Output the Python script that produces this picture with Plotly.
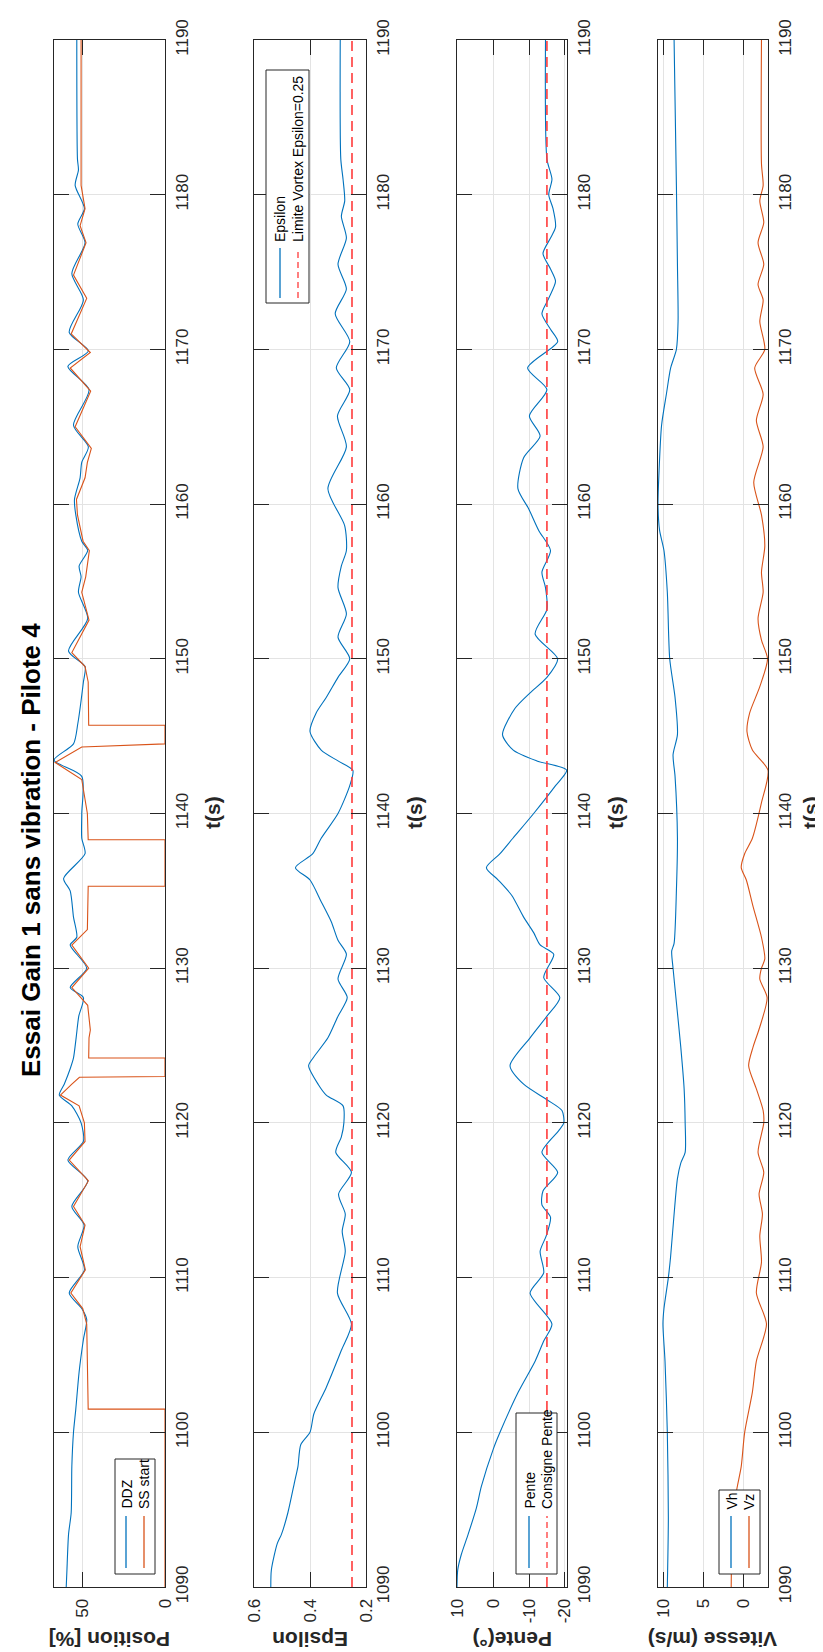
import plotly.graph_objects as go

# ---------------- DATA ----------------
t_ddz = [1090, 1091, 1093.4, 1094.8, 1097.8, 1100, 1101.5, 1103.9, 1106, 1107.3, 1108, 1109, 1110.5,
         1112, 1113.4, 1114.6, 1116.25, 1117.6, 1118.8, 1120, 1121.1, 1121.8, 1122.5, 1123.5, 1124.2,
         1125.5, 1126.9, 1128.1, 1128.75, 1130, 1131.5, 1132, 1133.3, 1135, 1135.8, 1137.4, 1138.4,
         1140, 1142.4, 1143.45, 1144.5, 1145.8, 1148.5, 1149.5, 1150.5, 1152.6, 1154.3, 1155.3, 1156,
         1157, 1157.6, 1159.3, 1160.3, 1161.7, 1162.7, 1163.7, 1165.1, 1167.4, 1168.9, 1169.9, 1171.1,
         1173.2, 1174.9, 1176.9, 1178.1, 1179.1, 1180.6, 1181.6, 1182.3, 1190]
ddz = [59.8, 59.4, 58.4, 56.8, 56.4, 55.4, 54.0, 52.0, 49.4, 47.4, 50.4, 58.0, 48.8,
       52.8, 49.0, 56.4, 46.8, 58.8, 49.4, 50.8, 56.4, 64.0, 61.0, 57.4, 55.4,
       53.8, 52.2, 49.4, 57.4, 47.4, 57.4, 53.4, 55.4, 57.4, 61.4, 48.4, 50.4,
       50.4, 50.4, 67.2, 55.4, 52.8, 49.4, 48.4, 58.4, 46.8, 52.4, 50.8, 52.0,
       46.8, 50.4, 54.0, 54.8, 51.4, 50.4, 46.4, 55.4, 46.0, 58.8, 46.4, 58.0,
       49.4, 56.4, 48.4, 52.8, 48.8, 54.4, 52.4, 53.0, 53.4]

t_ss = [1090, 1101.5, 1101.5, 1104, 1107, 1108, 1109, 1110.5, 1112, 1113.4, 1114.6, 1116.25, 1117.6,
        1118.8, 1120, 1121.1, 1121.8, 1122.5, 1122.95, 1123.0, 1124.2, 1124.2, 1125.5, 1126, 1127.6,
        1128.75, 1130, 1131.5, 1132.5, 1135.3, 1135.3, 1138.3, 1138.3, 1140, 1142.2, 1143.3, 1144.3,
        1144.5, 1145.7, 1145.7, 1148.5, 1149.5, 1150.4, 1152.5, 1154.3, 1155.3, 1157, 1157.6, 1159.3,
        1160.3, 1161.7, 1162.7, 1163.6, 1165, 1167.3, 1168.8, 1169.8, 1171, 1173.3, 1174.8, 1176.9,
        1178, 1179.1, 1180.6, 1181.6, 1182.3, 1190]
ss_start = [0, 0, 46.5, 46.8, 47.4, 49.8, 57.0, 48.2, 51.4, 48.4, 55.4, 46.4, 58.0,
            48.4, 48.8, 52.0, 63.3, 56.4, 51.8, 0, 0, 46.2, 46.0, 45.2, 46.8,
            56.4, 46.2, 56.4, 47.0, 46.5, 0, 0, 46.5, 47.0, 50.4, 66.5, 50.4,
            0, 0, 46.2, 46.5, 48.4, 56.4, 46.0, 50.4, 48.0, 45.8, 49.6, 53.0,
            53.6, 48.4, 47.0, 44.6, 54.4, 45.0, 57.4, 45.2, 56.8, 47.4, 55.4, 47.8,
            51.4, 48.4, 50.8, 50.8, 50.8, 50.8]

t_eps = [1090, 1091.1, 1092.8, 1093.4, 1094.8, 1096.8, 1097.8, 1099.2, 1100, 1101.2, 1102.9, 1105.3,
         1107, 1109, 1111.7, 1113, 1114.1, 1115.4, 1116.8, 1118.1, 1119.1, 1120, 1121.1, 1121.8,
         1122.5, 1123.7, 1124.2, 1125.5, 1126.9, 1128.1, 1129.3, 1130.9, 1131.8, 1133, 1134.3,
         1135.7, 1136.5, 1137.4, 1138.4, 1140, 1141.8, 1142.8, 1143.4, 1144.1, 1145.3, 1146.5,
         1147.5, 1148.8, 1150, 1151.4, 1152.9, 1154.6, 1156, 1157, 1158.6, 1161, 1163.7, 1165.7,
         1167.4, 1168.8, 1170.5, 1172.3, 1173.9, 1175.5, 1177.2, 1178.6, 1179.6, 1181, 1182.3, 1190]
epsilon = [0.540, 0.538, 0.517, 0.502, 0.479, 0.455, 0.443, 0.433, 0.400, 0.386, 0.342, 0.288,
           0.252, 0.302, 0.274, 0.285, 0.274, 0.298, 0.252, 0.308, 0.288, 0.279, 0.282, 0.342,
           0.371, 0.405, 0.389, 0.336, 0.300, 0.267, 0.300, 0.270, 0.300, 0.324, 0.360,
           0.400, 0.452, 0.390, 0.360, 0.300, 0.258, 0.247, 0.300, 0.360, 0.400, 0.378,
           0.342, 0.300, 0.258, 0.300, 0.270, 0.300, 0.288, 0.270, 0.276, 0.336, 0.270, 0.302,
           0.258, 0.306, 0.258, 0.310, 0.270, 0.300, 0.270, 0.288, 0.276, 0.282, 0.290, 0.292]
eps_limit = 0.25

t_pente = [1090, 1091.1, 1092.1, 1093.4, 1095.1, 1096.5, 1098.9, 1100, 1102.6, 1104.6, 1105.9, 1107,
           1109, 1110.3, 1111.7, 1112.7, 1113.9, 1114.7, 1115.6, 1116.8, 1118.1, 1119.5, 1120,
           1120.8, 1121.5, 1122.5, 1123.7, 1125.5, 1126.9, 1128.1, 1129.4, 1130.9, 1131.5, 1132.3,
           1133.3, 1134.7, 1135.7, 1136.5, 1137.4, 1138.4, 1140, 1141.8, 1142.8, 1143.4, 1144.1,
           1145.1, 1146.8, 1147.8, 1148.8, 1150, 1151.6, 1153.2, 1154.6, 1155.6, 1157, 1158.3,
           1159.7, 1161, 1163, 1164.4, 1165.7, 1167.4, 1168.8, 1170.5, 1171.3, 1172.3, 1173.3,
           1174.4, 1175.2, 1176.2, 1177.2, 1177.9, 1179.1, 1180, 1181, 1182.3, 1190]
pente = [10.1, 9.9, 8.9, 7.0, 4.7, 3.3, 0.0, -1.9, -7.0, -11.7, -14.1, -16.4,
         -10.3, -14.1, -13.1, -14.8, -16.0, -13.6, -13.9, -18.0, -13.6, -18.3, -19.7,
         -19.2, -15.0, -8.5, -4.7, -10.3, -15.0, -18.6, -14.1, -16.9, -13.1, -11.3,
         -8.5, -5.2, -1.4, 1.9, -1.9, -5.5, -11.3, -17.4, -20.5, -12.2, -5.6,
         -2.6, -6.1, -10.3, -15.0, -18.0, -11.7, -15.0, -14.6, -13.6, -16.0, -12.7,
         -9.9, -6.9, -8.5, -13.1, -10.1, -15.0, -9.6, -18.0, -16.0, -13.6, -15.5,
         -17.4, -16.0, -13.9, -16.0, -17.4, -16.7, -15.5, -16.4, -15.0, -14.6]
pente_consigne = -15

t_vh = [1090, 1094.5, 1100, 1104.6, 1107, 1108, 1110, 1111.4, 1114.1, 1116.4, 1117.4, 1118.1, 1120,
        1122.2, 1124.9, 1128.2, 1130, 1131.1, 1131.6, 1135, 1138.4, 1142.4, 1143.8, 1145.1, 1147.5,
        1150, 1154.3, 1157, 1158.3, 1160, 1162, 1165.1, 1167.1, 1168.8, 1170, 1171.8, 1175.5,
        1180.6, 1190]
vh = [9.58, 9.45, 9.58, 9.87, 10.13, 10.0, 9.45, 9.16, 8.73, 8.31, 7.89, 7.34, 7.34,
      7.47, 7.89, 8.52, 8.86, 9.03, 8.73, 8.44, 8.31, 8.61, 8.86, 8.31, 8.61,
      9.28, 9.58, 10.0, 10.55, 10.75, 10.63, 10.3, 9.7, 9.16, 8.44, 8.23, 8.31,
      8.44, 8.73]

t_vz = [1090, 1093.4, 1096.1, 1097.8, 1100, 1102.6, 1104.6, 1107, 1109, 1111, 1112.7, 1114.1, 1115.4,
        1116.8, 1118.1, 1120, 1120.8, 1122.2, 1123.7, 1124.9, 1126.2, 1128.1, 1129.3, 1130, 1130.6,
        1132, 1134, 1135.7, 1136.5, 1137.4, 1138.4, 1140.7, 1142.8, 1144.1, 1145.3, 1146.5, 1148.2,
        1150, 1151.2, 1152.6, 1154.3, 1155.6, 1157.3, 1159.3, 1161.4, 1163.7, 1165.4, 1167.1,
        1168.8, 1170, 1171.8, 1173.2, 1174.2, 1175.5, 1176.9, 1178.2, 1179.6, 1180.6, 1182, 1190]
vz = [1.56, 1.43, 0.93, 0.30, -0.13, -1.10, -1.60, -2.87, -1.60, -2.24, -2.03, -2.36, -1.94,
      -2.53, -1.81, -2.53, -2.45, -1.60, -0.63, -1.18, -2.03, -2.95, -2.03, -2.24, -2.66,
      -2.24, -1.18, -0.34, 0.30, -0.13, -1.10, -2.24, -3.06, -1.10, -0.42, -0.76, -2.03,
      -3.00, -2.24, -1.81, -2.45, -2.24, -2.66, -2.24, -1.27, -2.45, -1.60, -2.45,
      -1.39, -2.66, -2.03, -2.45, -1.81, -2.53, -1.81, -2.53, -2.03, -2.45, -2.24, -2.24]

t_ticks = list(range(1090, 1191, 10))
title_text = "Essai Gain 1 sans vibration - Pilote 4"
ylabels = ["Position [%]", "Epsilon", "Pente(°)", "Vitesse (m/s)"]
x_ranges = [[67.2, 0], [0.6, 0.2], [10.1, -20.6], [10.75, -3.06]]
x_tickvals = [[0, 50], [0.2, 0.4, 0.6], [-20, -10, 0, 10], [0, 5, 10]]
x_ticktext = [["0", "50"], ["0.2", "0.4", "0.6"], ["-20", "-10", "0", "10"], ["0", "5", "10"]]

# ---------------- LAYOUT GEOMETRY (pixels) ----------------
W, H = 823, 1652
L, R, T, B = 46, 63, 32, 73
PW, PH = W - L - R, H - T - B
cols_px = [(46, 157), (246, 358), (449, 559), (650, 760)]
tlabel_px = [204, 406, 607, 802]

def px(xp):
    return (xp - L) / PW

def py(yp):
    return (H - B - yp) / PH

BLUE = "#0072BD"
ORANGE = "#D95319"
RED = "#FF3B3B"
AX = "#262626"
GRID = "#e3e3e3"
FONT = "Liberation Sans, Arial, sans-serif"

fig = go.Figure()

def add_line(x, y, i, color, dash="solid", shape="spline", width=1.1):
    fig.add_trace(go.Scatter(x=x, y=y, mode="lines", xaxis=f"x{i}", yaxis=f"y{i}",
                             line=dict(color=color, width=width, dash=dash, shape=shape,
                                       smoothing=0.7 if shape == "spline" else None),
                             showlegend=False, hoverinfo="skip"))

add_line(ddz, t_ddz, 1, BLUE)
add_line(ss_start, t_ss, 1, ORANGE, shape="linear")
add_line(epsilon, t_eps, 2, BLUE)
add_line([eps_limit, eps_limit], [1090, 1190], 2, RED, dash="10px,6px", shape="linear", width=1.6)
add_line(pente, t_pente, 3, BLUE)
add_line([pente_consigne, pente_consigne], [1090, 1190], 3, RED, dash="10px,6px", shape="linear", width=1.6)
add_line(vh, t_vh, 4, BLUE)
add_line(vz, t_vz, 4, ORANGE)

layout = dict(width=W, height=H, margin=dict(l=L, r=R, t=T, b=B),
              paper_bgcolor="white", plot_bgcolor="white", showlegend=False,
              font=dict(family=FONT, color=AX, size=17))

for i, (a, b) in enumerate(cols_px, start=1):
    layout[f"xaxis{i}"] = dict(domain=[px(a), px(b)], anchor=f"y{i}", range=x_ranges[i - 1],
                               tickvals=x_tickvals[i - 1], ticktext=x_ticktext[i - 1],
                               tickangle=-90, ticks="inside", ticklen=15, tickcolor=AX,
                               showline=True, linecolor=AX, linewidth=1, mirror="ticks",
                               showgrid=True, gridcolor=GRID, zeroline=False,
                               tickfont=dict(size=17, color=AX), ticklabelstandoff=4)
    layout[f"yaxis{i}"] = dict(domain=[0, 1], anchor=f"x{i}", side="right", range=[1090, 1190],
                               tickvals=t_ticks, ticktext=[str(v) for v in t_ticks],
                               tickangle=-90, ticks="inside", ticklen=15, tickcolor=AX,
                               showline=True, linecolor=AX, linewidth=1, mirror="ticks",
                               showgrid=True, gridcolor=GRID, zeroline=False,
                               tickfont=dict(size=17, color=AX), ticklabelstandoff=2)

fig.update_layout(**layout)

ann = []
shapes = []
# title
ann.append(dict(text=f"<b>{title_text}</b>", x=px(23), y=py(842), xref="paper", yref="paper",
                textangle=-90, showarrow=False, font=dict(size=26, family=FONT, color="black"),
                xanchor="center", yanchor="middle"))
for i, (a, b) in enumerate(cols_px):
    ann.append(dict(text=f"<b>{ylabels[i]}</b>", x=px((a + b) / 2), y=py(1632), xref="paper", yref="paper",
                    textangle=180, showarrow=False, font=dict(size=21, family=FONT, color=AX),
                    xanchor="center", yanchor="middle"))
    ann.append(dict(text="<b>t(s)</b>", x=px(tlabel_px[i]), y=py(805), xref="paper", yref="paper",
                    textangle=-90, showarrow=False, font=dict(size=21, family=FONT, color=AX),
                    xanchor="center", yanchor="middle"))

# legends: (box x0,x1,y0,y1, entries [(x, label, color, dash)], text_bottom, line_y0, line_y1)
legends = [
    ((107, 147, 1451, 1566), [(118, "DDZ", BLUE, "solid"), (136, "SS start", ORANGE, "solid")], 1503, 1508, 1560),
    ((258, 301, 62, 295), [(272, "Epsilon", BLUE, "solid"), (290, "Limite Vortex Epsilon=0.25", RED, "dash")], 236, 240, 290),
    ((508, 549, 1405, 1566), [(521, "Pente", BLUE, "solid"), (539, "Consigne Pente", RED, "dash")], 1503, 1508, 1560),
    ((711, 752, 1482, 1566), [(723, "Vh", BLUE, "solid"), (741, "Vz", ORANGE, "solid")], 1504, 1508, 1560),
]
for (x0, x1, y0, y1), entries, tb, l0, l1 in legends:
    shapes.append(dict(type="rect", xref="paper", yref="paper", x0=px(x0), x1=px(x1), y0=py(y1), y1=py(y0),
                       line=dict(color=AX, width=1), fillcolor="white", layer="above"))
    for xc, lab, col, dash in entries:
        shapes.append(dict(type="line", xref="paper", yref="paper", x0=px(xc), x1=px(xc), y0=py(l1), y1=py(l0),
                           line=dict(color=col, width=1.3, dash="6px,4px" if dash == "dash" else "solid"),
                           layer="above"))
        ann.append(dict(text=lab, x=px(xc), y=py(tb), xref="paper", yref="paper", textangle=-90,
                        showarrow=False, font=dict(size=14, family=FONT, color="black"),
                        xanchor="center", yanchor="bottom"))

fig.update_layout(annotations=ann, shapes=shapes)
fig.write_html("out.html")
